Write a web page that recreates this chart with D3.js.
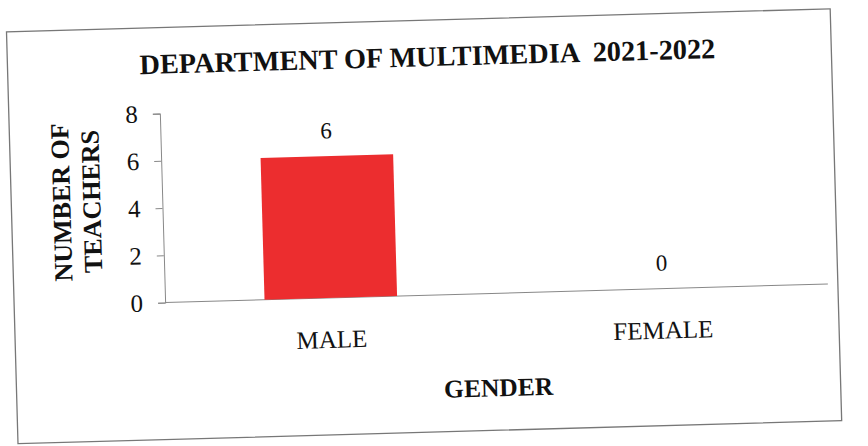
<!DOCTYPE html>
<html>
<head>
<meta charset="utf-8">
<script src="https://cdn.jsdelivr.net/npm/d3@7"></script>
<style>
  body { margin: 0; background: #fff; }
  text { font-family: "Liberation Serif", "Times New Roman", serif; fill: #111; }
</style>
</head>
<body>
<svg id="chart" width="868" height="446"></svg>
<script>
const categories = ["MALE", "FEMALE"];
const teachers = [6, 0];
const yTicks = [0, 2, 4, 6, 8];

const width = 868, height = 446;
const svg = d3.select("#chart");

// the photo is a little tilted, so draw everything in a rotated group
const g = svg.append("g")
  .attr("transform", `rotate(-1.6, ${width / 2}, ${height / 2})`);

/* ------- FRAME -------*/
g.append("rect")
  .attr("x", 12).attr("y", 20)
  .attr("width", 824).attr("height", 412)
  .attr("fill", "#fff")
  .attr("stroke", "#777")
  .attr("stroke-width", 1.3);

const plot = { left: 163, right: 826, top: 106, bottom: 295 };

const x = d3.scaleBand()
  .domain(categories)
  .range([plot.left, plot.right])
  .paddingInner(0.6)
  .paddingOuter(0.3);

const y = d3.scaleLinear()
  .domain([0, 8])
  .range([plot.bottom, plot.top]);

/* ------- AXES -------*/
const yAxis = g.append("g")
  .attr("transform", `translate(${plot.left},0)`)
  .call(d3.axisLeft(y).tickValues(yTicks).tickSize(7).tickPadding(15));
yAxis.selectAll("text").attr("font-size", 25).attr("fill", "#111")
  .attr("font-family", "Liberation Serif");
yAxis.selectAll("line, path").attr("stroke", "#888");

g.append("line")
  .attr("x1", plot.left).attr("x2", plot.right)
  .attr("y1", y(0)).attr("y2", y(0))
  .attr("stroke", "#888");

/* ------- BARS -------*/
g.selectAll("rect.bar")
  .data(teachers)
  .enter()
  .append("rect")
  .attr("class", "bar")
  .attr("x", (d, i) => x(categories[i]))
  .attr("y", d => y(d))
  .attr("width", x.bandwidth())
  .attr("height", d => y(0) - y(d))
  .attr("fill", "#ec2d2f");

g.selectAll("text.value")
  .data(teachers)
  .enter()
  .append("text")
  .attr("class", "value")
  .attr("x", (d, i) => x(categories[i]) + x.bandwidth() / 2)
  .attr("y", d => y(d) - 18)
  .attr("text-anchor", "middle")
  .attr("font-size", 23)
  .text(d => d);

g.selectAll("text.cat")
  .data(categories)
  .enter()
  .append("text")
  .attr("class", "cat")
  .attr("x", d => x(d) + x.bandwidth() / 2)
  .attr("y", y(0) + 50)
  .attr("text-anchor", "middle")
  .attr("font-size", 25)
  .text(d => d);

/* ------- TITLES -------*/
g.append("text")
  .attr("x", 432).attr("y", 66)
  .attr("text-anchor", "middle")
  .attr("font-size", 28.3)
  .attr("font-weight", "bold")
  .attr("xml:space", "preserve")
  .text("DEPARTMENT OF MULTIMEDIA  2021-2022");

g.append("text")
  .attr("x", 494).attr("y", y(0) + 103)
  .attr("text-anchor", "middle")
  .attr("font-size", 25.5)
  .attr("font-weight", "bold")
  .text("GENDER");

const yTitle = g.append("text")
  .attr("transform", "translate(71,192) rotate(-90)")
  .attr("text-anchor", "middle")
  .attr("font-size", 26)
  .attr("font-weight", "bold");
yTitle.append("tspan").attr("x", 0).attr("dy", 0).text("NUMBER OF");
yTitle.append("tspan").attr("x", 0).attr("dy", 30).text("TEACHERS");
</script>
</body>
</html>
